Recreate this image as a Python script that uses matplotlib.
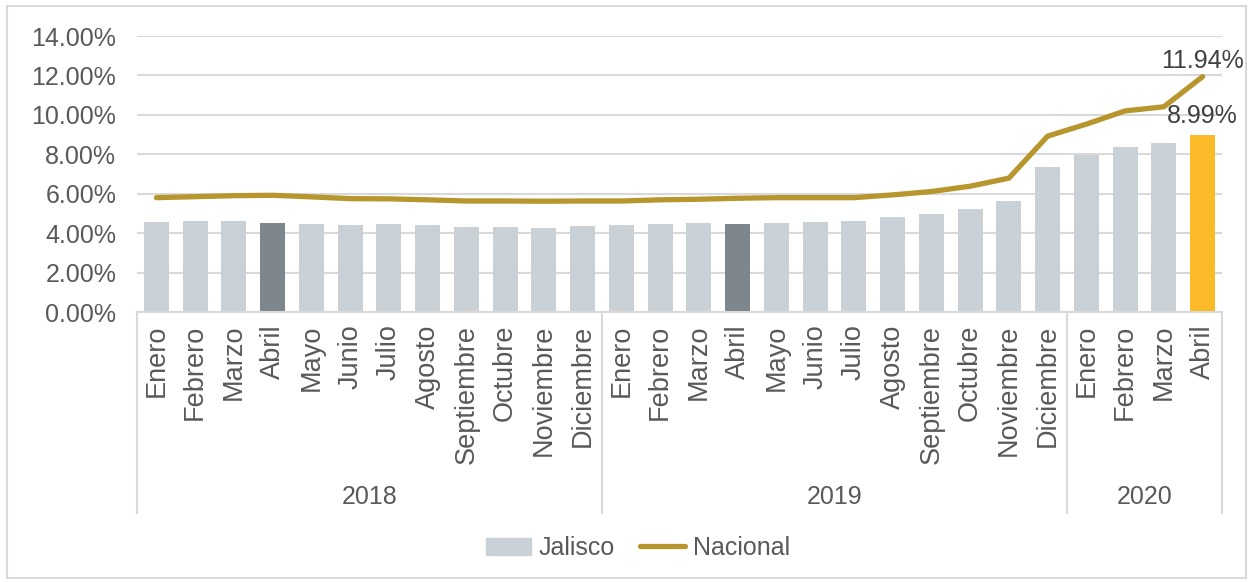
"""Tasa de desocupacion: Jalisco vs Nacional."""

import matplotlib
matplotlib.use("Agg")
import matplotlib.pyplot as plt
import matplotlib.transforms as mtransforms
from matplotlib.lines import Line2D
from matplotlib.patches import Patch, Rectangle
from matplotlib.ticker import FuncFormatter

MONTHS = ["Enero", "Febrero", "Marzo", "Abril", "Mayo", "Junio", "Julio", "Agosto",
          "Septiembre", "Octubre", "Noviembre", "Diciembre"]
YEARS = ["2018", "2019", "2020"]
MONTHS_PER_YEAR = [12, 12, 4]
MONTH_LABELS = MONTHS + MONTHS + MONTHS[:4]

JALISCO = [4.58, 4.62, 4.62, 4.52, 4.47, 4.42, 4.47, 4.42, 4.33, 4.33, 4.28, 4.37,
           4.42, 4.47, 4.52, 4.47, 4.52, 4.58, 4.63, 4.81, 4.97, 5.23, 5.62, 7.33,
           7.94, 8.38, 8.58, 8.99]
NACIONAL = [5.80, 5.85, 5.90, 5.92, 5.84, 5.75, 5.74, 5.69, 5.63, 5.63, 5.62, 5.63,
            5.63, 5.69, 5.72, 5.77, 5.80, 5.80, 5.80, 5.94, 6.11, 6.38, 6.79, 8.92,
            9.53, 10.20, 10.41, 11.94]

TEXT = "#595959"
GRID = "#d9d9d9"
BAR = "#c9d0d6"
BAR_ABRIL = "#7c868c"
BAR_LAST = "#fbba27"
LINE = "#b8962e"

plt.rcParams["font.family"] = ["Liberation Sans", "DejaVu Sans"]
plt.rcParams["font.size"] = 18


def bar_colors():
    colors = []
    for i, m in enumerate(MONTH_LABELS):
        if i == len(MONTH_LABELS) - 1:
            colors.append(BAR_LAST)
        elif m == "Abril":
            colors.append(BAR_ABRIL)
        else:
            colors.append(BAR)
    return colors


def main():
    fig = plt.figure(figsize=(12.53, 5.82), dpi=100)
    ax = fig.add_axes([137 / 1253, 1 - 312 / 582, (1222 - 137) / 1253, (312 - 36) / 582])

    x = list(range(len(MONTH_LABELS)))
    ax.bar(x, JALISCO, width=0.65, color=bar_colors(), zorder=2)
    ax.plot(x, NACIONAL, color=LINE, lw=3.8, solid_capstyle="round", zorder=3)

    ax.set_xlim(-0.5, len(x) - 0.5)
    ax.set_ylim(0, 14)
    ax.set_yticks(range(0, 15, 2))
    ax.yaxis.set_major_formatter(FuncFormatter(lambda v, _: f"{v:.2f}%"))
    ax.yaxis.grid(True, color=GRID, lw=1.5, zorder=0)
    ax.set_axisbelow(True)
    for side in ["top", "right", "left"]:
        ax.spines[side].set_visible(False)
    ax.spines["bottom"].set_color(GRID)
    ax.spines["bottom"].set_linewidth(1.5)
    ax.tick_params(axis="y", length=0, pad=15, colors=TEXT)
    ax.tick_params(axis="x", length=0, pad=9, colors=TEXT)
    ax.set_xticks(x)
    ax.set_xticklabels(MONTH_LABELS, rotation=90, fontsize=19.5)

    # year groups under the month labels
    trans = mtransforms.blended_transform_factory(ax.transData, ax.transAxes)
    start = -0.5
    bounds = [start]
    for year, n in zip(YEARS, MONTHS_PER_YEAR):
        end = start + n
        ax.text((start + end) / 2, -0.67, year, transform=trans, ha="center", va="center",
                color=TEXT)
        bounds.append(end)
        start = end
    for b in bounds:
        ax.add_line(Line2D([b, b], [0, -0.728], transform=trans, color=GRID, lw=1.5,
                           clip_on=False))

    # value labels on the last month
    ax.annotate(f"{NACIONAL[-1]:.2f}%", (x[-1], NACIONAL[-1]), xytext=(0, 16),
                textcoords="offset pixels", ha="center", va="center", color="#404040")
    ax.annotate(f"{JALISCO[-1]:.2f}%", (x[-1], JALISCO[-1]), xytext=(0, 19),
                textcoords="offset pixels", ha="center", va="center", color="#404040")

    handles = [Patch(color=BAR, label="Jalisco"),
               Line2D([], [], color=LINE, lw=3.8, solid_capstyle="round", label="Nacional")]
    fig.legend(handles=handles, loc="center", bbox_to_anchor=(638 / 1253, 1 - 548 / 582),
               ncol=2, frameon=False, handlelength=1.8, handletextpad=0.3,
               columnspacing=1.0, labelcolor=TEXT)

    fig.patches.append(Rectangle((7 / 1253, 4 / 582), 1239 / 1253, 572 / 582,
                                 transform=fig.transFigure, fill=False, ec=GRID, lw=1.5))

    fig.savefig("out.png", dpi=100)


if __name__ == "__main__":
    main()
